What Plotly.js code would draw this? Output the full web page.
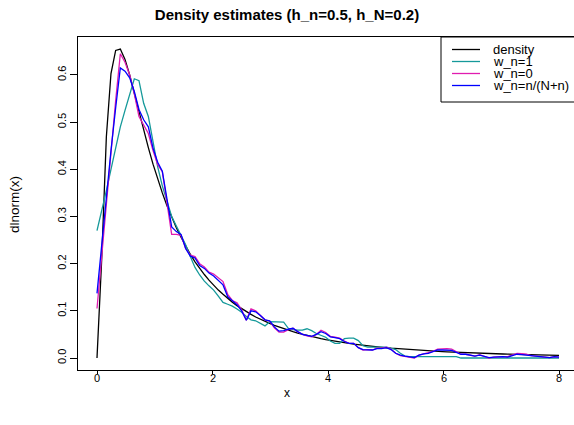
<!DOCTYPE html>
<html>
<head>
<meta charset="utf-8">
<script src="https://cdn.plot.ly/plotly-3.0.1.min.js"></script>
<style>body{margin:0;padding:0;background:#fff}#chart{width:574px;height:425px}</style>
</head>
<body>
<div id="chart"></div>
<script>
// grid of x values (100 points from 0 to 8)
const xGrid = [0, 0.081, 0.162, 0.242, 0.323, 0.404, 0.485, 0.566, 0.646, 0.727,
  0.808, 0.889, 0.970, 1.051, 1.131, 1.212, 1.293, 1.374, 1.455, 1.535,
  1.616, 1.697, 1.778, 1.859, 1.939, 2.020, 2.101, 2.182, 2.263, 2.343,
  2.424, 2.505, 2.586, 2.667, 2.747, 2.828, 2.909, 2.990, 3.071, 3.152,
  3.232, 3.313, 3.394, 3.475, 3.556, 3.636, 3.717, 3.798, 3.879, 3.960,
  4.040, 4.121, 4.202, 4.283, 4.364, 4.444, 4.525, 4.606, 4.687, 4.768,
  4.848, 4.929, 5.010, 5.091, 5.172, 5.253, 5.333, 5.414, 5.495, 5.576,
  5.657, 5.737, 5.818, 5.899, 5.980, 6.061, 6.141, 6.222, 6.303, 6.384,
  6.465, 6.545, 6.626, 6.707, 6.788, 6.869, 6.949, 7.030, 7.111, 7.192,
  7.273, 7.354, 7.434, 7.515, 7.596, 7.677, 7.758, 7.838, 7.919, 8.000];

// true density
const densityY = [0, 0.2085, 0.469, 0.603, 0.652, 0.655, 0.633, 0.600, 0.561, 0.521,
  0.483, 0.446, 0.411, 0.379, 0.350, 0.323, 0.2985, 0.276, 0.256, 0.237,
  0.220, 0.204, 0.190, 0.177, 0.165, 0.154, 0.144, 0.135, 0.126, 0.1185,
  0.111, 0.1045, 0.098, 0.0925, 0.087, 0.082, 0.0775, 0.0733, 0.0692, 0.0655,
  0.062, 0.0588, 0.0557, 0.0529, 0.0502, 0.0477, 0.0453, 0.0431, 0.041, 0.0391,
  0.0372, 0.0355, 0.0339, 0.0323, 0.0309, 0.0295, 0.0282, 0.027, 0.0258, 0.0247,
  0.0237, 0.0227, 0.0217, 0.0208, 0.02, 0.0192, 0.0184, 0.0177, 0.017, 0.0163,
  0.0157, 0.0151, 0.0145, 0.014, 0.0135, 0.013, 0.0125, 0.0121, 0.0116, 0.0112,
  0.0108, 0.0104, 0.0101, 0.0097, 0.0094, 0.0091, 0.0088, 0.0085, 0.0082, 0.0079,
  0.0077, 0.0074, 0.0072, 0.0069, 0.0067, 0.0065, 0.0063, 0.0061, 0.0059, 0.0057];

// estimate with w_n = 1
const wn1Y = [0.27, 0.31, 0.355, 0.40, 0.445, 0.49, 0.525, 0.56, 0.592, 0.588,
  0.54, 0.512, 0.46, 0.405, 0.365, 0.335, 0.30, 0.28, 0.26, 0.24,
  0.215, 0.192, 0.176, 0.163, 0.153, 0.144, 0.131, 0.118, 0.114, 0.110,
  0.104, 0.097, 0.088, 0.081, 0.079, 0.073, 0.068, 0.077, 0.077, 0.077,
  0.076, 0.063, 0.060, 0.059, 0.059, 0.062, 0.058, 0.052, 0.048, 0.044,
  0.036, 0.031, 0.031, 0.041, 0.042, 0.042, 0.037, 0.026, 0.023, 0.023,
  0.023, 0.023, 0.023, 0.021, 0.018, 0.010, 0.004, 0.003, 0.003, 0.003,
  0.003, 0.003, 0.003, 0.003, 0.003, 0.003, 0.003, 0.003, 0, 0,
  0, 0, 0, 0, 0, 0, 0, 0, 0, 0,
  0, 0, 0, 0, 0, 0, 0, 0, 0, 0];

// estimate with w_n = 0
const wn0Y = [0.105, 0.22, 0.33, 0.44, 0.545, 0.645, 0.627, 0.60, 0.56, 0.512,
  0.494, 0.476, 0.44, 0.41, 0.395, 0.325, 0.262, 0.262, 0.26, 0.232,
  0.218, 0.215, 0.2, 0.193, 0.182, 0.178, 0.17, 0.162, 0.135, 0.122,
  0.117, 0.102, 0.08, 0.104, 0.1, 0.09, 0.081, 0.078, 0.064, 0.055,
  0.055, 0.06, 0.063, 0.056, 0.05, 0.047, 0.045, 0.05, 0.059, 0.054,
  0.046, 0.044, 0.042, 0.036, 0.031, 0.031, 0.022, 0.017, 0.018, 0.017,
  0.021, 0.021, 0.023, 0.019, 0.01, 0.005, 0.003, 0.001, 0.0, 0.006,
  0.009, 0.011, 0.014, 0.019, 0.02, 0.02, 0.019, 0.013, 0.008, 0.008,
  0.006, 0.004, 0.007, 0.003, 0.0, 0.002, 0.003, 0.003, 0.003, 0.006,
  0.01, 0.009, 0.008, 0.005, 0.004, 0.003, 0.002, 0.001, 0.003, 0.002];

// estimate with w_n = n/(N+n)
const wnMixY = [0.137, 0.24, 0.34, 0.44, 0.53, 0.615, 0.608, 0.594, 0.565, 0.527,
  0.505, 0.49, 0.445, 0.415, 0.396, 0.34, 0.278, 0.268, 0.262, 0.232,
  0.216, 0.212, 0.196, 0.19, 0.18, 0.174, 0.165, 0.155, 0.13, 0.121,
  0.113, 0.1, 0.08, 0.1, 0.098, 0.09, 0.081, 0.079, 0.066, 0.057,
  0.058, 0.061, 0.063, 0.056, 0.05, 0.048, 0.046, 0.05, 0.056, 0.052,
  0.045, 0.043, 0.041, 0.035, 0.031, 0.031, 0.022, 0.018, 0.018, 0.017,
  0.02, 0.02, 0.022, 0.018, 0.01, 0.006, 0.004, 0.002, 0.001, 0.006,
  0.009, 0.01, 0.013, 0.017, 0.017, 0.017, 0.016, 0.012, 0.008, 0.008,
  0.006, 0.004, 0.006, 0.003, 0.001, 0.002, 0.003, 0.003, 0.002, 0.005,
  0.008, 0.007, 0.006, 0.005, 0.004, 0.003, 0.002, 0.001, 0.003, 0.002];

const seriesNames = ["density", "w_n=1", "w_n=0", "w_n=n/(N+n)"];
const seriesColors = ["#000000", "#15999A", "#E01CB0", "#0000FF"];
const xTicks = [0, 2, 4, 6, 8];
const yTicks = [0, 0.1, 0.2, 0.3, 0.4, 0.5, 0.6];

const W = 574, H = 425;
const M = {l: 78, r: 0, t: 37, b: 55};
const FONT = "Liberation Sans, Arial, Helvetica, sans-serif";

const seriesY = [densityY, wn1Y, wn0Y, wnMixY];
const traces = seriesY.map((ys, k) => ({
  type: "scatter", mode: "lines", x: xGrid, y: ys, name: seriesNames[k],
  line: {color: seriesColors[k], width: 1.3}, showlegend: false, hoverinfo: "skip"
}));

// pixel helpers for layout-only elements (legend box, labels)
const pw = W - M.l - M.r, ph = H - M.t - M.b;
const px2x = p => (p - M.l) / pw;
const py2y = p => (H - M.b - p) / ph;
function px2xval(p) { return (p - 97) / 57.75; }

const shapes = [{type: "rect", xref: "paper", yref: "paper",
  x0: px2x(441), x1: px2x(600), y0: py2y(102), y1: py2y(37),
  line: {color: "#000", width: 1}, fillcolor: "rgba(0,0,0,0)"}];
const annotations = [];
const rowY = [49.5, 61.5, 73.5, 85.5];
seriesNames.forEach((nm, k) => {
  shapes.push({type: "line", xref: "paper", yref: "paper",
    x0: px2x(452), x1: px2x(480), y0: py2y(rowY[k]), y1: py2y(rowY[k]),
    line: {color: seriesColors[k], width: 1.3}});
  annotations.push({xref: "paper", yref: "paper", x: px2x(492), y: py2y(rowY[k]),
    xanchor: "left", yanchor: "middle", showarrow: false, text: nm, borderpad: 0,
    font: {family: FONT, size: 13, color: "#000"}});
});
// x tick labels placed tight under the axis, as in the reference
xTicks.forEach(v => {
  annotations.push({xref: "x", yref: "paper", x: v, y: py2y(377.5),
    xanchor: "center", yanchor: "middle", showarrow: false, text: String(v), borderpad: 0,
    font: {family: FONT, size: 11, color: "#000"}});
});
annotations.push({xref: "paper", yref: "paper", x: px2x(287), y: py2y(393),
  xanchor: "center", yanchor: "middle", showarrow: false, text: "x",
  font: {family: FONT, size: 12, color: "#000"}});
annotations.push({xref: "paper", yref: "paper", x: px2x(15), y: py2y(205),
  xanchor: "center", yanchor: "middle", showarrow: false, text: "dlnorm(x)", textangle: -90,
  font: {family: FONT, size: 13.5, color: "#000"}});

const layout = {
  width: W, height: H, margin: M,
  paper_bgcolor: "#fff", plot_bgcolor: "#fff",
  font: {family: FONT, size: 11, color: "#000"},
  title: {text: "<b>Density estimates (h_n=0.5, h_N=0.2)</b>", x: 0.5, xref: "container",
    y: 1 - 15 / H, yref: "container", yanchor: "middle", xanchor: "center",
    font: {family: FONT, size: 15, color: "#000"}},
  xaxis: {range: [px2xval(78), px2xval(574)], tickvals: xTicks, showticklabels: false,
    showgrid: false, zeroline: false, showline: true, mirror: true, linecolor: "#000", linewidth: 1,
    ticks: "outside", ticklen: 3, tickcolor: "#000", tickwidth: 1},
  yaxis: {range: [-0.0254, 0.6805], tickvals: yTicks, ticktext: yTicks.map(v => v.toFixed(1)),
    tickangle: -90, showgrid: false, zeroline: false, showline: true, mirror: false,
    linecolor: "#000", linewidth: 1, ticks: "outside", ticklen: 7, tickcolor: "#000", tickwidth: 1,
    tickfont: {size: 11}},
  shapes: shapes, annotations: annotations, showlegend: false
};

Plotly.newPlot("chart", traces, layout, {staticPlot: true, displayModeBar: false});
</script>
</body>
</html>
